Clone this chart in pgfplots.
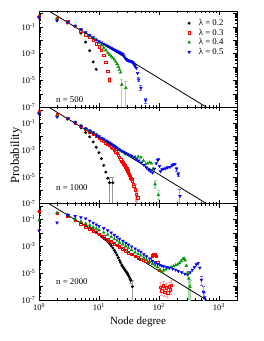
\documentclass[border=0pt]{standalone}
\usepackage{fontspec}
\setmainfont{Liberation Serif}
\usepackage{pgfplots}
\pgfplotsset{compat=1.18}
\definecolor{cR}{RGB}{255,0,0}
\definecolor{cG}{RGB}{0,150,0}
\definecolor{cB}{RGB}{0,0,255}
\pgfplotsset{
 myaxis/.style={
  scale only axis, width=198pt, height=96.33pt,
  xmin=1, xmax=2000, ymin=1e-7, ymax=1.5,
  xtick={1,10,100,1000},
  minor xtick={2,3,4,5,6,7,8,9,20,30,40,50,60,70,80,90,200,300,400,500,600,700,800,900,2000},
  ytick={1e-7,1e-6,1e-5,1e-4,1e-3,1e-2,1e-1,1},
  yticklabels={10\textsuperscript{-7},,10\textsuperscript{-5},,10\textsuperscript{-3},,10\textsuperscript{-1},},
  minor ytick={2e-7,3e-7,4e-7,5e-7,6e-7,7e-7,8e-7,9e-7,2e-6,3e-6,4e-6,5e-6,6e-6,7e-6,8e-6,9e-6,2e-5,3e-5,4e-5,5e-5,6e-5,7e-5,8e-5,9e-5,2e-4,3e-4,4e-4,5e-4,6e-4,7e-4,8e-4,9e-4,2e-3,3e-3,4e-3,5e-3,6e-3,7e-3,8e-3,9e-3,2e-2,3e-2,4e-2,5e-2,6e-2,7e-2,8e-2,9e-2,0.2,0.3,0.4,0.5,0.6,0.7,0.8,0.9},
  tick align=inside, xtick pos=both, ytick pos=both,
  xticklabel pos=lower, yticklabel pos=left,
  major tick length=4pt, minor tick length=2pt,
  tick style={black, line width=0.4pt},
  axis line style={line width=0.6pt},
  ticklabel style={font=\fontsize{8.5}{9}\selectfont},
 },
}
\tikzset{
 sK/.style={mark=*, mark size=1.3pt, black},
 sR/.style={mark=square, mark size=1.2pt, cR, mark options={line width=0.5pt}},
 sG/.style={mark=triangle*, mark size=1.6pt, cG},
 sU/.style={mark=triangle*, mark size=1.6pt, cB, mark options={rotate=180}},
}
\begin{document}
\begin{tikzpicture}
\fill[white] (0,0) rectangle (264pt,341pt);
% ---------------- n = 500
\begin{loglogaxis}[myaxis, at={(39pt,233.67pt)}, anchor=south west, xticklabels={},
  legend style={draw=none, fill=none, at={(axis description cs:0.743,0.925)}, anchor=north west, inner sep=0pt,
    font=\fontsize{8.8}{9.6}\selectfont, nodes={inner sep=1pt, text height=6pt, text depth=1.6pt}, row sep=0pt},
  legend cell align=left,
  legend image code/.code={\path[draw=none] (0pt,0pt) (11.5pt,0pt); \draw[#1, only marks] plot coordinates {(2.85pt,0pt)};}]
\addplot[only marks, sK] coordinates {(1,0.562) (2,0.398) (3,0.229) (4,0.100) (5,3.39e-2) (6,7.24e-3) (7,1.66e-3) (8,2.40e-4) (9,6.76e-5)};
\addlegendentry{λ = 0.2}
\addplot[only marks, sR] coordinates {(1,0.562) (2,0.427) (3,0.240) (4,0.105) (5,5.01e-2) (6,2.63e-2) (7,1.58e-2) (8,9.55e-3) (9,5.62e-3) (10,3.16e-3) (11,1.78e-3) (12,7.59e-4) (13,2.24e-4) (14,5.01e-5)};
\addlegendentry{λ = 0.3}
\addplot[only marks, sG] coordinates {(1,0.537) (2,0.380) (3,0.224) (4,0.112) (5,6.03e-2) (6,3.55e-2) (7,2.24e-2) (8,1.48e-2) (9,1.00e-2) (10,6.61e-3) (11,4.37e-3) (12,2.82e-3) (13,1.78e-3) (14,1.17e-3) (15,8.51e-4) (16,6.31e-4) (17,4.79e-4) (18,3.55e-4) (19,2.51e-4) (20,1.70e-4) (21,1.05e-4) (22,6.46e-5) (23,3.98e-5)};
\addlegendentry{λ = 0.4}
\addplot[only marks, sU] coordinates {(1,0.501) (2,0.282) (3,0.200) (4,0.117) (5,6.61e-2) (6,3.80e-2) (7,2.40e-2) (8,1.58e-2) (9,1.10e-2) (10,8.32e-3) (11,6.61e-3) (12,5.37e-3) (13,4.47e-3) (14,3.72e-3) (15,3.09e-3) (16,2.63e-3) (17,2.29e-3) (18,2.00e-3) (19,1.74e-3) (20,1.55e-3) (21,1.38e-3) (22,1.26e-3) (23,1.12e-3) (24,1.02e-3) (25,9.33e-4) (26,7.08e-4) (27,5.01e-4) (28,3.98e-4) (29,3.55e-4) (30,3.16e-4) (31,3.02e-4) (32,2.95e-4) (33,2.82e-4) (34,2.69e-4) (35,2.51e-4) (36,2.34e-4) (37,2.09e-4) (38,1.78e-4) (39,1.41e-4) (40,1.12e-4) (42,8.51e-5) (44,3.55e-5)};
\addlegendentry{λ = 0.5}
\addplot[only marks, sR, forget plot, error bars/.cd, y dir=both, y explicit, error bar style={cR!35, line width=1pt}, error mark options={rotate=90, mark size=1.5pt, cR!35, line width=0.5pt}]
 coordinates {(15,1.15e-5) += (0,6.7e-6) -= (0,4.3e-6)};
\addplot[only marks, sG, forget plot, error bars/.cd, y dir=both, y explicit, error bar style={cG!35, line width=1.2pt}, error mark options={rotate=90, mark size=1.5pt, cG!35, line width=0.5pt}]
 coordinates {(24,5.01e-6) += (0,7.6e-6) -= (0,5.00e-6) (28,2.82e-6) += (0,5.9e-6) -= (0,2.81e-6)};
\addplot[only marks, sU, forget plot, error bars/.cd, y dir=both, y explicit, error bar style={cB!35, line width=1pt}, error mark options={rotate=90, mark size=1.5pt, cB!60, line width=0.5pt}]
 coordinates {(46,1.17e-5) += (0,4.8e-6) -= (0,3.4e-6) (50,2.82e-6) += (0,1.65e-6) -= (0,1.04e-6) (60,3.24e-7) += (0,1.9e-7) -= (0,1.2e-7)};
\addplot[black, line width=0.8pt, forget plot] coordinates {(1,4.27) (1000,2.76e-8)};
\node[anchor=west, inner sep=0pt, font=\fontsize{8.8}{10}\selectfont] at (rel axis cs:0.086,0.085) {n = 500};
\end{loglogaxis}
% ---------------- n = 1000
\begin{loglogaxis}[myaxis, at={(39pt,137.33pt)}, anchor=south west, xticklabels={},
  ylabel={Probability}, ylabel style={font=\fontsize{12.5}{13}\selectfont, at={(axis description cs:-0.116,0.5)}, anchor=center}]
\addplot[only marks, sK] coordinates {(1,0.562) (2,0.380) (3,0.214) (4,0.100) (5,4.47e-2) (6,2.00e-2) (7,9.55e-3) (8,3.98e-3) (9,1.58e-3) (10,6.31e-4) (11,2.24e-4) (12,7.08e-5) (13,2.24e-5) (14,7.94e-6)};
\addplot[only marks, sR] coordinates {(1,0.708) (2,0.427) (3,0.224) (4,0.105) (5,6.03e-2) (6,3.55e-2) (7,2.34e-2) (8,1.58e-2) (9,1.07e-2) (10,7.41e-3) (11,5.62e-3) (12,4.47e-3) (13,3.55e-3) (14,2.82e-3) (15,2.24e-3) (16,1.78e-3) (17,1.32e-3) (18,1.00e-3) (19,7.59e-4) (20,5.62e-4) (21,3.98e-4) (22,2.82e-4) (23,2.00e-4) (24,1.51e-4) (25,1.20e-4) (26,8.91e-5) (27,7.08e-5) (28,5.37e-5) (29,3.98e-5) (30,2.82e-5) (31,2.00e-5) (32,1.41e-5) (33,1.12e-5) (34,7.94e-6) (35,6.31e-6) (36,4.47e-6) (37,2.82e-6) (38,2.00e-6)};
\addplot[only marks, sG] coordinates {(1,0.603) (2,0.355) (3,0.224) (4,0.117) (5,6.61e-2) (6,3.98e-2) (7,2.69e-2) (8,1.91e-2) (9,1.38e-2) (10,1.05e-2) (12,6.31e-3) (14,3.98e-3) (16,2.69e-3) (18,1.91e-3) (20,1.41e-3) (22,1.07e-3) (25,7.08e-4) (28,5.01e-4) (31,4.17e-4) (35,3.55e-4) (40,3.02e-4) (45,3.16e-4) (50,2.82e-4) (55,1.58e-4) (60,8.91e-5) (65,1.00e-4) (70,1.20e-4) (75,1.00e-4) (80,3.98e-5)};
\addplot[only marks, sU] coordinates {(1,0.501) (2,0.282) (3,0.209) (4,0.112) (5,6.31e-2) (6,3.98e-2) (7,2.82e-2) (8,2.00e-2) (9,1.41e-2) (10,1.05e-2) (11,7.94e-3) (12,6.31e-3) (13,5.01e-3) (14,4.17e-3) (15,3.47e-3) (16,2.88e-3) (17,2.40e-3) (18,2.00e-3) (19,1.70e-3) (20,1.45e-3) (22,1.07e-3) (24,8.71e-4) (26,7.08e-4) (28,5.75e-4) (30,4.90e-4) (32,4.17e-4) (35,3.55e-4) (38,2.82e-4) (42,2.09e-4) (46,1.58e-4) (51,1.15e-4) (56,7.59e-5) (62,4.79e-5) (67,3.39e-5) (72,2.69e-5) (78,2.04e-5) (84,3.98e-5) (90,1.00e-4) (95,1.78e-4) (98,2.00e-4) (102,6.31e-5) (106,2.51e-5) (112,3.63e-5) (120,3.98e-5) (130,4.27e-5) (140,5.01e-5) (153,5.37e-5) (165,7.08e-5) (175,8.32e-5) (185,8.91e-5)};
\addplot[only marks, sK, forget plot, error bars/.cd, y dir=both, y explicit, error bar style={black!40, line width=1pt}, error mark options={rotate=90, mark size=1.5pt, black!40, line width=0.5pt}]
 coordinates {(15,3.63e-6) += (0,6.4e-6) -= (0,3.62e-6) (17,3.63e-6) += (0,6.4e-6) -= (0,3.62e-6)};
\addplot[only marks, sR, forget plot, error bars/.cd, y dir=both, y explicit, error bar style={cR!35, line width=1pt}, error mark options={rotate=90, mark size=1.5pt, cR!35, line width=0.5pt}]
 coordinates {(40,1.12e-6) += (0,1.5e-6) -= (0,1.11e-6) (42,5.01e-7) += (0,1.0e-6) -= (0,4.91e-7) (44,2.82e-7) += (0,8e-7) -= (0,2.72e-7)};
\addplot[only marks, sG, forget plot, error bars/.cd, y dir=both, y explicit, error bar style={cG!35, line width=1.2pt}, error mark options={rotate=90, mark size=1.5pt, cG!35, line width=0.5pt}]
 coordinates {(86,2.82e-6) += (0,2.8e-6) -= (0,1.41e-6) (98,4.47e-7) += (0,5.5e-7) -= (0,2.5e-7)};
\addplot[only marks, sU, forget plot, error bars/.cd, y dir=both, y explicit, error bar style={cB!35, line width=1pt}, error mark options={rotate=90, mark size=1.5pt, cB!60, line width=0.5pt}]
 coordinates {(197,3.98e-5) += (0,1.6e-5) -= (0,1.2e-5) (209,1.51e-5) += (0,6.2e-6) -= (0,4.4e-6) (224,3.72e-7) += (0,9e-7) -= (0,3.62e-7)};
\addplot[black, line width=0.8pt, forget plot] coordinates {(1,4.27) (1000,2.76e-8)};
\node[anchor=west, inner sep=0pt, font=\fontsize{8.8}{10}\selectfont] at (rel axis cs:0.086,0.166) {n = 1000};
\end{loglogaxis}
% ---------------- n = 2000
\begin{loglogaxis}[myaxis, at={(39pt,41pt)}, anchor=south west,
  xticklabels={10\textsuperscript{0},10\textsuperscript{1},10\textsuperscript{2},10\textsuperscript{3}},
  xlabel={Node degree}, xlabel style={font=\fontsize{11}{12}\selectfont, at={(axis description cs:0.5,-0.228)}, anchor=center}]
\addplot[only marks, sK] coordinates {(1,0.380) (2,0.269) (3,0.182) (4,0.105) (5,6.03e-2) (6,3.80e-2) (7,2.51e-2) (8,1.74e-2) (9,1.17e-2) (10,7.94e-3) (11,5.62e-3) (12,3.98e-3) (13,3.02e-3) (14,2.24e-3) (15,1.58e-3) (16,1.12e-3) (17,7.59e-4) (18,5.01e-4) (19,3.39e-4) (20,2.24e-4) (21,1.41e-4) (22,8.91e-5) (23,6.03e-5) (24,3.98e-5) (25,3.02e-5) (26,2.24e-5) (27,1.78e-5) (28,1.41e-5) (29,1.12e-5) (30,8.91e-6) (31,6.76e-6) (32,5.01e-6) (33,3.55e-6)};
\addplot[only marks, sR] coordinates {(1,0.398) (2,0.282) (3,0.191) (4,8.91e-2) (5,4.79e-2) (6,2.82e-2) (7,2.00e-2) (8,1.48e-2) (9,1.07e-2) (10,7.94e-3) (12,5.01e-3) (14,3.16e-3) (16,2.24e-3) (18,1.58e-3) (20,1.20e-3) (22,9.33e-4) (25,6.61e-4) (28,4.68e-4) (31,3.39e-4) (35,2.51e-4) (40,1.78e-4) (45,1.38e-4) (50,1.12e-4) (55,9.55e-5) (60,7.94e-5) (66,6.31e-5) (72,1.00e-4) (78,2.00e-4) (82,2.40e-4) (86,2.40e-4) (91,1.78e-4) (96,6.31e-5) (100,1.58e-5)};
\addplot[only marks, sG] coordinates {(1,8.51e-2) (2,0.316) (3,0.229) (4,0.100) (5,7.08e-2) (6,5.01e-2) (7,3.72e-2) (8,2.69e-2) (9,2.09e-2) (10,1.58e-2) (12,1.07e-2) (14,7.41e-3) (16,5.01e-3) (18,3.55e-3) (20,2.63e-3) (22,1.91e-3) (25,1.41e-3) (28,1.00e-3) (31,7.59e-4) (35,5.25e-4) (40,3.55e-4) (45,2.63e-4) (50,2.00e-4) (56,1.41e-4) (62,1.00e-4) (70,6.76e-5) (78,5.01e-5) (86,3.80e-5) (95,2.82e-5) (104,1.78e-5) (112,1.26e-5) (120,1.58e-5) (130,1.91e-5) (145,2.40e-5) (160,2.82e-5) (175,3.31e-5) (190,3.98e-5) (205,4.47e-5) (220,5.62e-5) (235,7.94e-5) (250,1.12e-4) (262,1.26e-4) (272,8.91e-5) (285,3.55e-5)};
\addplot[only marks, sU] coordinates {(1,1.48e-2) (2,5.75e-2) (3,0.219) (4,0.174) (5,0.141) (6,0.117) (7,7.94e-2) (8,5.62e-2) (9,4.17e-2) (10,3.16e-2) (12,2.24e-2) (14,1.51e-2) (16,1.05e-2) (18,7.08e-3) (20,5.01e-3) (22,3.55e-3) (25,2.51e-3) (28,1.78e-3) (31,1.32e-3) (35,9.55e-4) (40,6.76e-4) (45,5.01e-4) (50,3.80e-4) (56,2.51e-4) (62,1.78e-4) (70,1.20e-4) (78,8.32e-5) (86,6.31e-5) (95,4.79e-5) (104,3.98e-5) (112,3.55e-5) (120,3.16e-5) (135,2.82e-5) (150,2.51e-5) (170,2.09e-5) (190,1.78e-5) (210,1.41e-5) (240,1.12e-5) (270,8.91e-6) (300,7.94e-6) (330,1.12e-5) (360,1.78e-5) (390,2.82e-5) (420,4.47e-5) (450,5.62e-5) (480,2.51e-5)};
\addplot[only marks, sK, forget plot, error bars/.cd, y dir=both, y explicit, error bar style={black!40, line width=1pt}, error mark options={rotate=90, mark size=1.5pt, black!40, line width=0.5pt}]
 coordinates {(34,2.82e-6) += (0,1.65e-6) -= (0,1.04e-6) (36,1.00e-6) += (0,2e-6) -= (0,0.99e-6)};
\addplot[only marks, sR, forget plot, error bars/.cd, y dir=both, y explicit, error bar style={cR!35, line width=1pt}, error mark options={rotate=90, mark size=1.5pt, cR!35, line width=0.5pt}]
 coordinates {(105,8.91e-7) += (0,1.1e-6) -= (0,4.9e-7) (112,5.01e-7) += (0,6.2e-7) -= (0,2.8e-7) (118,1.12e-6) += (0,1.4e-6) -= (0,6.2e-7) (125,3.98e-7) += (0,4.9e-7) -= (0,2.2e-7) (132,7.94e-7) += (0,9.8e-7) -= (0,4.4e-7) (140,3.55e-7) += (0,4.4e-7) -= (0,2.0e-7) (148,1.00e-6) += (0,1.2e-6) -= (0,5.5e-7) (155,5.62e-7) += (0,7.0e-7) -= (0,3.1e-7) (162,1.26e-6) += (0,1.6e-6) -= (0,7.0e-7)};
\addplot[only marks, sG, forget plot, error bars/.cd, y dir=both, y explicit, error bar style={cG!35, line width=1.2pt}, error mark options={rotate=90, mark size=1.5pt, cG!35, line width=0.5pt}]
 coordinates {(300,1.00e-5) += (0,4e-6) -= (0,3e-6) (315,3.98e-6) += (0,4e-6) -= (0,3.97e-6) (330,1.00e-6) += (0,2e-6) -= (0,0.99e-6)};
\addplot[only marks, sU, forget plot, error bars/.cd, y dir=both, y explicit, error bar style={cB!35, line width=1pt}, error mark options={rotate=90, mark size=1.5pt, cB!60, line width=0.5pt}]
 coordinates {(510,3.16e-6) += (0,3e-6) -= (0,2e-6) (550,3.98e-7) += (0,6e-7) -= (0,3.88e-7) (580,1.58e-7) += (0,2e-7) -= (0,1.48e-7)};
\addplot[black, line width=0.8pt, forget plot] coordinates {(1,4.27) (1000,2.76e-8)};
\node[anchor=west, inner sep=0pt, font=\fontsize{8.8}{10}\selectfont] at (rel axis cs:0.086,0.187) {n = 2000};
\end{loglogaxis}
\end{tikzpicture}
\end{document}
